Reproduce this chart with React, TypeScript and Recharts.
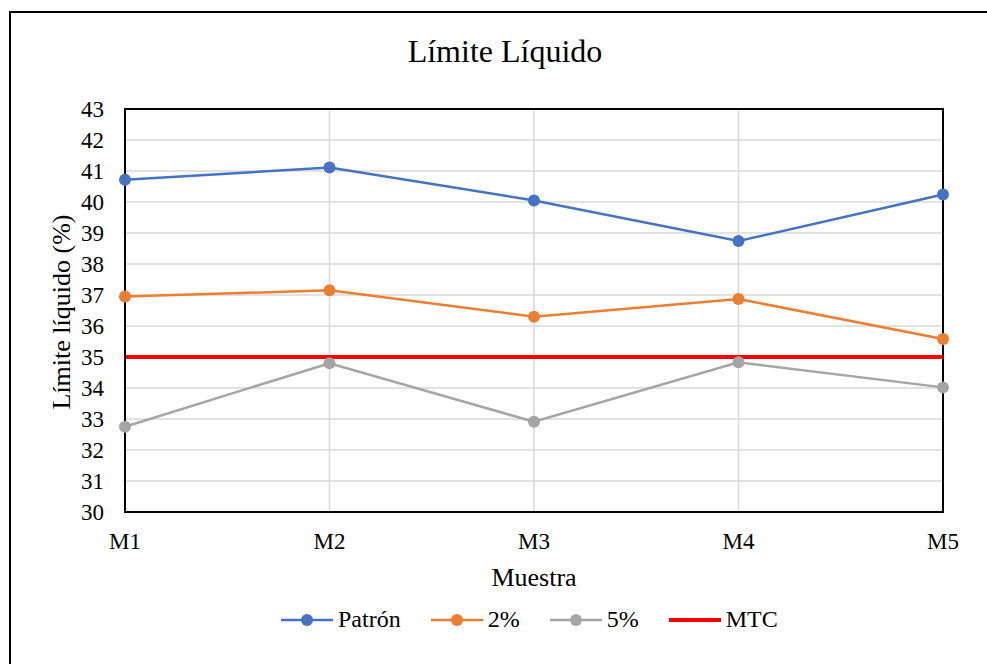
import React from 'react';
import { LineChart, Line, XAxis, YAxis, CartesianGrid, ReferenceArea } from 'recharts';

const categories = ['M1', 'M2', 'M3', 'M4', 'M5'];
const patron = [40.72, 41.11, 40.05, 38.74, 40.24];
const dosPct = [36.95, 37.15, 36.3, 36.87, 35.58];
const cincoPct = [32.75, 34.8, 32.91, 34.83, 34.02];
const mtc = [35, 35, 35, 35, 35];
const yTicks = [30, 31, 32, 33, 34, 35, 36, 37, 38, 39, 40, 41, 42, 43];

const data = categories.map((m, i) => ({
    muestra: m,
    patron: patron[i],
    dos: dosPct[i],
    cinco: cincoPct[i],
    mtc: mtc[i],
}));

const FONT = '"Liberation Serif", "Times New Roman", serif';

const legendItems = [
    { label: 'Patrón', color: '#4472C4', dot: true },
    { label: '2%', color: '#ED7D31', dot: true },
    { label: '5%', color: '#A5A5A5', dot: true },
    { label: 'MTC', color: '#FF0000', dot: false },
];

const LegendBox = () => (
    <div style={{ position: 'absolute', left: 281, top: 606, display: 'flex', alignItems: 'center', fontFamily: FONT, fontSize: 24, color: '#000', whiteSpace: 'nowrap' }}>
        {legendItems.map((it) => (
            <div key={it.label} style={{ display: 'flex', alignItems: 'center', marginRight: 30 }}>
                <svg width={52} height={14} style={{ marginRight: 5 }}>
                    <line x1={0} y1={7} x2={52} y2={7} stroke={it.color} strokeWidth={it.dot ? 2.5 : 4} />
                    {it.dot && <circle cx={26} cy={7} r={6} fill={it.color} />}
                </svg>
                <span>{it.label}</span>
            </div>
        ))}
    </div>
);

export default function App() {
    return (
        <div style={{ position: 'absolute', left: 0, top: 0, width: 987, height: 664, overflow: 'hidden', background: '#fff', fontFamily: FONT }}>
            <div style={{ position: 'absolute', left: 9, top: 11, width: 1100, height: 800, borderLeft: '2.5px solid #000', borderTop: '2px solid #000' }} />
            <div style={{ position: 'absolute', left: 505, top: 51, transform: 'translate(-50%, -50%)', whiteSpace: 'nowrap', fontSize: 32, color: '#000' }}>
                Límite Líquido
            </div>
            <div style={{ position: 'absolute', left: 62, top: 312, transform: 'translate(-50%, -50%) rotate(-90deg)', whiteSpace: 'nowrap', fontSize: 26, color: '#000' }}>
                Límite líquido (%)
            </div>
            <div style={{ position: 'absolute', left: 534, top: 578, transform: 'translate(-50%, -50%)', whiteSpace: 'nowrap', fontSize: 26, color: '#000' }}>
                Muestra
            </div>
            <div style={{ position: 'absolute', left: 0, top: 0 }}>
                <LineChart width={987} height={664} data={data} margin={{ top: 109, right: 44, bottom: 0, left: 0 }}>
                    <CartesianGrid stroke="#d9d9d9" strokeWidth={1.5} />
                    <XAxis
                        dataKey="muestra"
                        height={152}
                        tickLine={false}
                        axisLine={{ stroke: '#000', strokeWidth: 2 }}
                        tick={{ fill: '#000', fontSize: 23, fontFamily: FONT }}
                        tickMargin={15}
                        interval={0}
                    />
                    <YAxis
                        width={125}
                        domain={[30, 43]}
                        ticks={yTicks}
                        interval={0}
                        tickLine={false}
                        axisLine={{ stroke: '#000', strokeWidth: 2 }}
                        tick={{ fill: '#000', fontSize: 23, fontFamily: FONT }}
                        tickMargin={15}
                    />
                    <ReferenceArea x1="M1" x2="M5" y1={30} y2={43} fill="none" stroke="#000" strokeWidth={2} fillOpacity={0} />
                    <Line dataKey="mtc" name="MTC" stroke="#FF0000" strokeWidth={4} dot={false} isAnimationActive={false} />
                    <Line dataKey="cinco" name="5%" stroke="#A5A5A5" strokeWidth={2.5} dot={{ r: 6, fill: '#A5A5A5', stroke: 'none' }} isAnimationActive={false} />
                    <Line dataKey="dos" name="2%" stroke="#ED7D31" strokeWidth={2.5} dot={{ r: 6, fill: '#ED7D31', stroke: 'none' }} isAnimationActive={false} />
                    <Line dataKey="patron" name="Patrón" stroke="#4472C4" strokeWidth={2.5} dot={{ r: 6, fill: '#4472C4', stroke: 'none' }} isAnimationActive={false} />
                </LineChart>
            </div>
            <LegendBox />
        </div>
    );
}
